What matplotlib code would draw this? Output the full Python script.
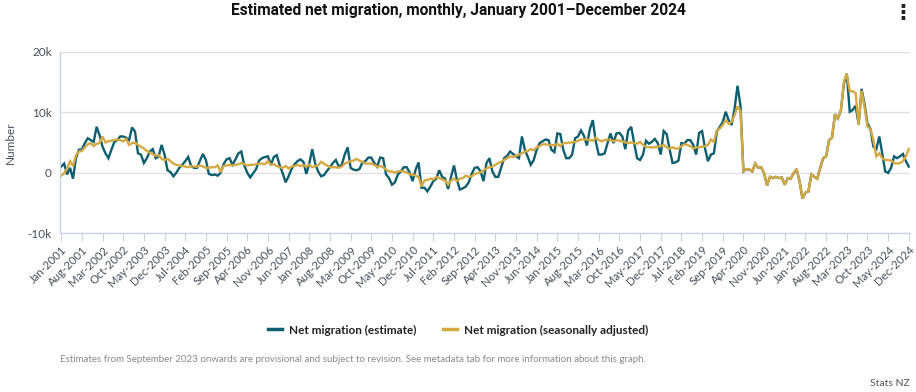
import matplotlib
matplotlib.use("Agg")
import matplotlib.pyplot as plt
import numpy as np
import pandas as pd

plt.rcParams['font.family'] = ['Lato', 'DejaVu Sans']

# monthly net migration, thousands, Jan 2001 - Dec 2024
estimate_k = [
    1.0, 1.5, -0.3, 0.8, -1.0, 2.4, 3.8, 3.8, 4.9, 5.7, 5.4, 5.1,          # 2001
    7.6, 6.2, 4.3, 3.2, 2.4, 3.8, 5.1, 5.4, 6.0, 6.0, 5.8, 5.4,            # 2002
    7.5, 6.8, 3.2, 3.0, 1.6, 2.4, 3.5, 3.9, 2.4, 2.7, 4.6, 3.0,            # 2003
    0.4, 0.1, -0.6, 0.0, 0.8, 1.3, 1.9, 2.6, 1.1, 0.8, 0.8, 2.0,           # 2004
    3.1, 2.1, -0.2, -0.4, -0.3, -0.5, 0.0, 1.4, 2.2, 2.4, 1.3, 2.2,        # 2005
    3.2, 3.5, 1.2, 0.0, -0.8, -0.1, 0.6, 2.0, 2.4, 2.6, 2.7, 1.3,          # 2006
    2.6, 2.9, 1.2, -0.1, -1.6, -0.6, 0.6, 1.4, 1.9, 2.2, 1.8, -0.2,        # 2007
    1.5, 3.9, 1.5, 0.2, -0.6, -0.4, 0.3, 0.9, 1.6, 2.1, 1.0, 1.3,          # 2008
    3.0, 4.2, 0.8, 0.5, 0.4, 0.6, 1.7, 1.9, 2.5, 2.5, 1.6, 1.0,            # 2009
    2.5, 2.4, -0.3, -0.9, -2.0, -1.6, -0.3, 0.2, 0.9, 0.9, 0.0, -1.4,      # 2010
    0.5, 1.7, -2.5, -2.5, -3.1, -2.3, -1.4, -1.0, 0.4, -0.7, -1.0, -2.7,   # 2011
    -0.7, 1.2, -1.2, -2.8, -2.6, -2.3, -1.6, -0.2, 0.8, 0.9, 0.2, -1.4,    # 2012
    1.6, 2.4, 0.2, -0.7, -0.7, 0.9, 2.4, 2.8, 3.5, 3.1, 2.7, 2.4,          # 2013
    6.0, 3.8, 2.6, 1.3, 2.1, 3.8, 4.9, 5.2, 5.5, 5.4, 3.8, 3.4,            # 2014
    6.5, 6.4, 3.8, 2.4, 2.4, 3.0, 5.7, 6.0, 7.0, 6.1, 4.5, 7.2,            # 2015
    8.7, 5.2, 3.0, 3.0, 3.2, 4.9, 6.5, 4.9, 6.5, 6.6, 6.0, 3.9,            # 2016
    7.0, 7.6, 4.9, 2.4, 2.1, 3.0, 5.3, 4.8, 5.1, 5.6, 4.9, 3.0,            # 2017
    6.9, 6.4, 3.9, 1.6, 1.7, 2.0, 4.9, 4.8, 5.4, 5.4, 4.6, 3.0,            # 2018
    6.6, 6.9, 4.0, 1.9, 3.0, 3.2, 6.8, 7.6, 8.4, 10.1, 8.7, 7.9,           # 2019
    10.6, 14.4, 11.1, 0.2, 0.6, 0.5, 0.2, 1.5, 0.8, 0.9, -0.1, -2.1,       # 2020
    -0.7, -0.9, -0.7, -0.9, -0.8, -2.0, -0.9, -1.0, -0.1, 0.6, -1.4, -4.3, # 2021
    -3.3, -3.1, -0.3, -0.7, -1.0, 0.8, 2.4, 2.7, 5.4, 5.8, 9.7, 9.0,       # 2022
    10.3, 14.7, 16.4, 10.1, 10.4, 11.1, 8.0, 13.9, 11.4, 8.1, 7.3, 4.3,    # 2023
    3.9, 6.0, 3.2, 0.2, -0.05, 0.8, 2.7, 2.4, 2.7, 3.1, 1.9, 1.0,          # 2024
]

seas_adj_k = [
    -0.5, -0.1, 0.7, 1.9, 1.1, 2.9, 3.5, 3.6, 4.2, 4.7, 4.9, 4.4,          # 2001
    4.8, 4.9, 6.0, 5.0, 5.2, 5.3, 5.4, 5.5, 5.4, 5.2, 5.6, 4.6,            # 2002
    4.9, 5.0, 4.6, 4.3, 4.0, 3.6, 3.3, 3.1, 2.8, 2.9, 2.3, 2.1,            # 2003
    2.3, 1.9, 1.5, 1.3, 1.2, 1.1, 1.0, 0.9, 1.1, 1.0, 1.0, 1.2,            # 2004
    1.0, 0.8, 0.8, 0.9, 0.9, 1.2, 0.1, 1.1, 1.2, 1.3, 1.2, 1.3,            # 2005
    1.4, 1.6, 1.4, 1.2, 1.3, 1.3, 1.4, 1.5, 1.5, 1.4, 1.9, 1.3,            # 2006
    1.4, 1.1, 0.9, 0.8, 1.1, 0.7, 1.0, 1.1, 1.3, 1.1, 1.2, 1.0,            # 2007
    1.3, 0.9, 1.1, 1.2, 1.8, 1.5, 1.2, 0.9, 0.9, 0.9, 0.8, 1.0,            # 2008
    1.5, 1.7, 1.9, 2.0, 2.3, 2.0, 1.8, 1.5, 1.5, 1.5, 1.3, 1.0,            # 2009
    1.1, 0.9, 0.5, 0.2, 0.2, 0.0, 0.2, 0.3, 0.2, 0.05, -0.3, -0.3,         # 2010
    -0.5, -0.7, -2.3, -1.3, -1.2, -1.0, -1.1, -0.7, -0.9, -1.1, -1.3, -2.0,  # 2011
    -1.3, -1.0, -1.4, -1.0, -0.9, -0.5, -0.7, -0.6, -0.2, -0.1, 0.05, 0.4,   # 2012
    0.7, 0.9, 1.0, 1.3, 1.6, 1.8, 2.1, 2.4, 2.7, 2.6, 2.8, 3.0,            # 2013
    3.2, 3.5, 3.6, 3.9, 3.7, 4.2, 4.4, 4.7, 4.7, 4.6, 4.6, 4.5,            # 2014
    4.8, 4.4, 4.9, 4.9, 5.0, 5.0, 5.1, 5.3, 5.5, 5.5, 5.5, 5.4,            # 2015
    5.3, 5.8, 5.4, 5.2, 5.4, 5.5, 5.4, 5.2, 5.4, 5.3, 5.2, 5.0,            # 2016
    4.9, 5.0, 4.9, 4.8, 5.1, 4.6, 4.3, 4.2, 4.2, 4.2, 4.3, 4.4,            # 2017
    4.6, 4.2, 4.0, 4.2, 4.0, 4.0, 4.4, 4.7, 4.6, 4.4, 4.0, 4.2,            # 2018
    4.2, 4.3, 4.4, 4.6, 5.5, 5.1, 7.0, 7.3, 7.9, 8.7, 8.1, 8.4,            # 2019
    9.5, 11.0, 10.2, 0.2, 0.6, 0.5, 0.2, 1.5, 0.8, 0.9, -0.1, -2.1,        # 2020
    -0.7, -0.9, -0.7, -0.9, -0.8, -2.0, -0.9, -1.0, -0.1, 0.6, -1.4, -4.3, # 2021
    -3.3, -3.1, -0.3, -0.7, -1.0, 0.8, 2.4, 2.7, 5.4, 5.8, 9.7, 9.0,       # 2022
    10.3, 15.0, 16.4, 13.5, 13.5, 13.2, 7.9, 13.6, 10.9, 7.6, 7.3, 5.4,    # 2023
    2.7, 3.2, 2.4, 2.1, 2.1, 2.0, 1.6, 1.5, 1.6, 1.9, 2.7, 3.9,            # 2024
]

months = pd.date_range("2001-01-01", periods=len(estimate_k), freq="MS")
tick_step = 7
series_names = ["Net migration (estimate)", "Net migration (seasonally adjusted)"]

teal = "#0d5e6f"
gold = "#d4a942"
axis_col = "#c9d3e3"
text_col = "#4b4f5c"

x = np.arange(len(months))
est = np.array(estimate_k) * 1000
sa = np.array(seas_adj_k) * 1000

fig = plt.figure(figsize=(9.16, 3.92), dpi=100)
ax = fig.add_axes([60 / 916, 1 - 233 / 392, 850 / 916, 181 / 392])

ax.plot(x, est, color=teal, lw=1.7, label=series_names[0], solid_joinstyle='miter')
ax.plot(x, sa, color=gold, lw=1.7, label=series_names[1], solid_joinstyle='miter')

ax.set_xlim(-0.4, len(x) - 0.6)
ax.set_ylim(-10000, 20000)
ax.set_yticks([-10000, 0, 10000, 20000])
ax.set_yticklabels(["-10k", "0", "10k", "20k"])
ax.grid(axis='y', color='#e2e2e2', lw=1)
ax.set_axisbelow(True)

ticks = x[::tick_step]
ax.set_xticks(ticks)
ax.set_xticklabels(months[::tick_step].strftime("%b-%Y"), rotation=45,
                   ha='right', rotation_mode='anchor')

for s in ['top', 'right']:
    ax.spines[s].set_visible(False)
for s in ['left', 'bottom']:
    ax.spines[s].set_color(axis_col)
    ax.spines[s].set_linewidth(1)

ax.tick_params(axis='x', length=6, color=axis_col, labelsize=8.2, labelcolor=text_col, pad=2)
ax.tick_params(axis='y', length=0, labelsize=8.5, labelcolor=text_col, pad=6)

ax.set_ylabel("Number", fontsize=8.5, color=text_col)
ax.yaxis.set_label_coords(-44 / 850, 0.5)

fig.text(0.5, 1 - 10 / 392, "Estimated net migration, monthly, January 2001\u2013December 2024",
         ha='center', va='center', fontsize=11.2, fontweight='bold', color='#111111',
         family=['Roboto', 'DejaVu Sans'])
fig.text(903 / 916, 1 - 12 / 392, "\u22ee", ha='center', va='center', fontsize=15,
         fontweight='bold', color='#222222', family='DejaVu Sans')

fig.legend(loc='center', bbox_to_anchor=(0.5, 1 - 330 / 392), ncol=2, frameon=False,
           handlelength=1.2, handletextpad=0.6, columnspacing=2.2,
           prop={'size': 8.5, 'weight': 'bold'}, labelcolor='#222222')
for line in fig.legends[0].get_lines():
    line.set_linewidth(2.5)

fig.text(60 / 916, 1 - 360 / 392,
         "Estimates from September 2023 onwards are provisional and subject to revision. "
         "See metadata tab for more information about this graph.",
         ha='left', va='center', fontsize=7, color='#8a8a8a')
fig.text(910 / 916, 1 - 383 / 392, "Stats NZ", ha='right', va='center', fontsize=7.5,
         color='#555555')

fig.savefig("out.png", dpi=100)
